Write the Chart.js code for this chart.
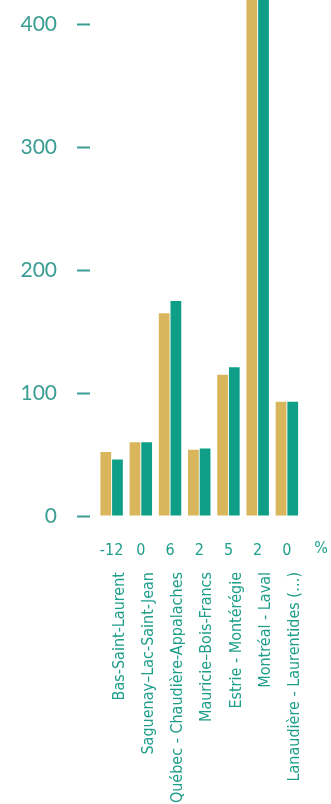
<!DOCTYPE html>
<html>
<head>
<meta charset="utf-8">
<script src="https://cdn.jsdelivr.net/npm/chart.js@4/dist/chart.umd.min.js"></script>
<style>
  html, body { margin: 0; padding: 0; background: #ffffff; }
  #wrap { width: 331px; height: 804px; position: relative; }
</style>
</head>
<body>
<div id="wrap"><canvas id="chart"></canvas></div>
<script>
// Regions (x axis) and the growth figure printed under each pair of bars
const regions = [
  'Bas-Saint-Laurent',
  'Saguenay\u2013Lac-Saint-Jean',
  'Québec - Chaudière-Appalaches',
  'Mauricie\u2013Bois-Francs',
  'Estrie - Montérégie',
  'Montréal - Laval',
  'Lanaudière - Laurentides (\u2026)'
];
const growth = ['-12', '0', '6', '2', '5', '2', '0'];
const growthUnit = '%';

// Two periods per region
const firstPeriod  = [52, 60, 165, 54, 115, 470, 93];
const secondPeriod = [46, 60, 175, 55, 121, 479, 93];

const GOLD = '#d9b65c';
const TEAL = '#0f9f88';
const TEXT = '#1f9e8b';
const AXIS_TEXT = '#3a9d92';

const NARROW = '"DejaVu Sans Condensed", "Liberation Sans Narrow", sans-serif';

// Draws the unit sign to the right of the growth row
const unitSign = {
  id: 'unitSign',
  afterDraw(chart) {
    const s = chart.scales.growth;
    const ctx = chart.ctx;
    const step = (s.right - s.left) / growth.length;
    ctx.save();
    ctx.fillStyle = TEXT;
    ctx.font = '16px ' + NARROW;
    ctx.textAlign = 'center';
    ctx.textBaseline = 'top';
    ctx.fillText(growthUnit, s.right + step * 0.67, s.top + s.options.ticks.padding);
    ctx.restore();
  }
};

new Chart(document.getElementById('chart'), {
  type: 'bar',
  data: {
    labels: regions,
    datasets: [
      { data: firstPeriod, backgroundColor: GOLD },
      { data: secondPeriod, backgroundColor: TEAL }
    ]
  },
  options: {
    responsive: true,
    maintainAspectRatio: false,
    animation: false,
    layout: { padding: { top: 0, right: 29.5, bottom: 0, left: 0 } },
    plugins: { legend: { display: false }, tooltip: { enabled: false } },
    datasets: { bar: { categoryPercentage: 0.8, barPercentage: 0.92 } },
    scales: {
      x: {
        type: 'category',
        position: 'bottom',
        weight: 1,
        offset: true,
        grid: { display: false, drawTicks: false },
        border: { display: false },
        ticks: {
          autoSkip: false,
          minRotation: 90,
          maxRotation: 90,
          padding: 12,
          labelOffset: 8,
          color: TEXT,
          font: { family: NARROW, size: 16, lineHeight: 1.2 }
        },
        afterFit(s) { s.height = 244; s.paddingLeft = 0; s.paddingRight = 0; }
      },
      growth: {
        type: 'category',
        labels: growth,
        position: 'bottom',
        weight: 0,
        offset: true,
        grid: { display: false, drawTicks: false },
        border: { display: false },
        ticks: {
          autoSkip: false,
          minRotation: 0,
          maxRotation: 0,
          padding: 25,
          color: TEXT,
          font: { family: NARROW, size: 16 }
        },
        afterFit(s) { s.height = 44; s.paddingLeft = 0; s.paddingRight = 0; }
      },
      y: {
        position: 'left',
        min: 0,
        max: 420,
        border: { display: false },
        grid: {
          drawOnChartArea: false,
          drawTicks: true,
          tickLength: 20,
          tickWidth: 2,
          tickColor: AXIS_TEXT,
          tickBorderDash: [13, 30]
        },
        ticks: {
          stepSize: 100,
          includeBounds: false,
          padding: 20,
          color: AXIS_TEXT,
          font: { family: 'Lato, "Open Sans", sans-serif', size: 21, weight: 400 }
        },
        afterFit(s) { s.width = 97; s.paddingTop = 0; s.paddingBottom = 0; }
      }
    }
  },
  plugins: [unitSign]
});
</script>
</body>
</html>
